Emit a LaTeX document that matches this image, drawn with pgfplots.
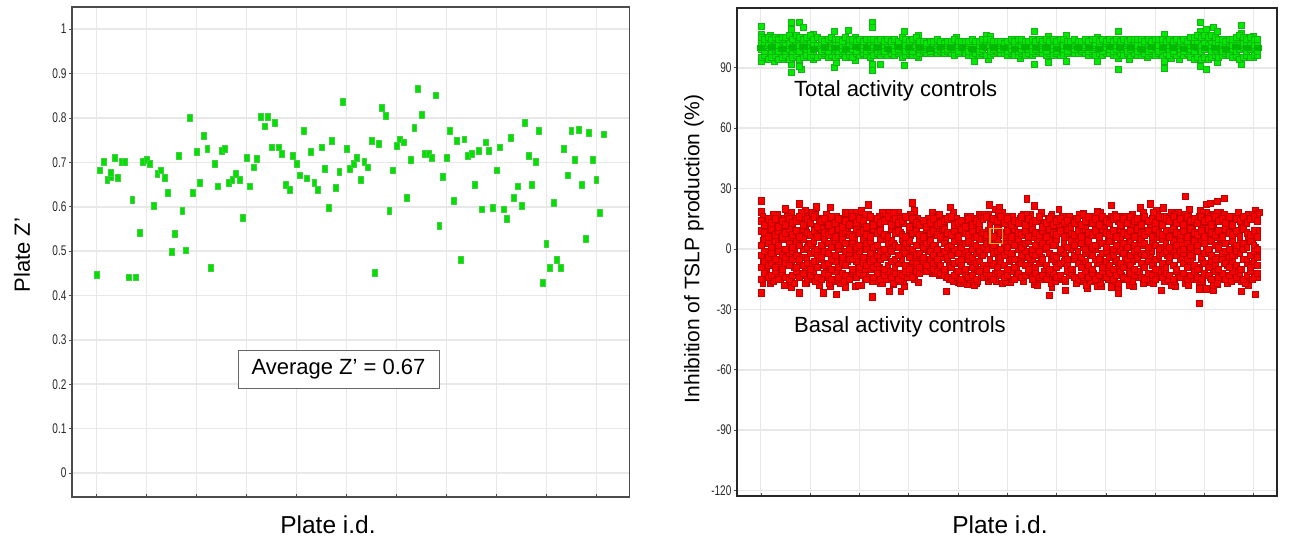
\documentclass[border=0pt]{standalone}
\usepackage{fontspec}
\setmainfont{Liberation Sans}
\usepackage{pgfplots}
\usepackage{pgfplotstable}
\pgfplotsset{compat=1.18}
\definecolor{gridc}{RGB}{232,232,232}
\definecolor{lgf}{RGB}{0,225,0}
\definecolor{lgd}{RGB}{70,205,70}
\definecolor{rgf}{RGB}{0,235,0}
\definecolor{rgd}{RGB}{20,180,20}
\definecolor{rgc}{RGB}{0,185,0}
\definecolor{rrf}{RGB}{250,0,0}
\definecolor{rrd}{RGB}{195,0,0}
\definecolor{oran}{RGB}{245,170,20}
\pgfplotstableread{
p v
0 .447
1 .682
2 .701
3 .661
4 .667
4 .677
5 .711
6 .665
7 .701
8 .701
9 .441
10 .616
11 .441
12 .542
13 .701
14 .705
15 .697
16 .602
17 .675
18 .682
19 .665
20 .631
21 .498
22 .539
23 .715
24 .590
25 .502
26 .800
27 .631
28 .723
29 .653
30 .759
31 .730
32 .462
33 .697
34 .646
35 .726
36 .730
37 .653
38 .661
39 .675
40 .661
41 .575
42 .711
43 .646
44 .689
45 .708
46 .803
47 .781
48 .803
49 .734
50 .789
51 .734
52 .719
53 .650
54 .638
55 .715
56 .697
57 .671
58 .771
59 .664
60 .723
61 .653
62 .638
63 .734
64 .686
65 .598
66 .749
67 .642
68 .678
69 .836
70 .730
71 .686
72 .697
73 .711
74 .660
75 .701
76 .689
77 .749
78 .451
79 .741
80 .822
81 .804
82 .590
83 .682
84 .738
85 .752
86 .745
87 .620
88 .705
89 .778
90 .866
91 .808
92 .719
93 .719
94 .711
95 .851
96 .557
97 .668
98 .711
99 .771
100 .613
101 .749
102 .480
103 .752
104 .715
105 .719
106 .650
107 .726
108 .594
109 .745
110 .726
111 .598
112 .682
113 .734
114 .594
115 .572
116 .756
117 .620
118 .646
119 .602
120 .789
121 .715
122 .650
123 .701
124 .771
125 .429
126 .517
127 .462
128 .609
129 .480
130 .462
131 .730
132 .671
133 .771
134 .705
135 .774
136 .650
137 .528
138 .767
139 .705
140 .661
141 .586
142 .763
}\zdata
\pgfplotstableread{
p a b c d e f
0 -15 -9 -3 2 9 14
1 -12 -6 -1 5 8 12
2 -14 -8 -4 3 6 15
3 -13 -7 -2 1 10 13
4 -11 -9 -5 4 7 15
5 -15 -6 -1 2 9 11
6 -12 -10 -3 5 6 14
7 -14 -7 -4 0 8 12
8 -15 -8 -2 3 10 15
9 -13 -5 -1 1 7 13
10 -11 -9 -3 4 9 14
11 -14 -6 -5 2 6 16
12 -12 -8 0 5 10 12
13 -15 -7 -4 1 8 15
14 -13 -10 -2 3 7 13
15 -11 -6 -1 4 9 16
16 -14 -9 -3 0 6 11
17 -15 -5 -4 2 10 14
18 -12 -8 -1 5 8 15
19 -13 -7 -2 3 7 12
20 -15 -10 -5 1 9 16
21 -11 -6 -3 4 6 13
22 -14 -9 0 2 10 15
23 -12 -7 -4 5 8 11
24 -13 -8 -1 3 9 14
25 -15 -5 -2 0 7 12
26 -11 -10 -5 4 6 16
27 -14 -6 -3 1 10 13
28 -12 -9 -1 2 8 15
29 -13 -7 -4 5 9 14
30 -15 -8 0 3 7 11
31 -10 -6 -2 4 6 16
32 -14 -9 -5 1 10 12
33 -12 -7 -3 2 8 15
34 -15 -5 -1 5 9 13
35 -13 -10 -4 0 7 14
36 -11 -8 -2 3 6 16
37 -14 -6 -1 4 10 12
38 -12 -9 -5 2 8 15
39 -15 -7 -3 1 9 13
40 -13 -5 0 5 7 14
41 -11 -8 -2 3 6 16
42 -12 -10 -4 4 10 11
43 -14 -6 -1 0 8 15
44 -11 -7 -3 2 9 13
45 -12 -9 -2 5 7 12
46 -10 -6 -4 1 6 14
47 -11 -8 0 3 10 11
48 -9 -5 -1 4 8 13
49 -10 -7 -3 2 9 15
50 -11 -6 -5 0 7 12
51 -12 -8 -2 5 6 13
52 -13 -10 -1 3 10 14
53 -14 -5 -4 1 8 15
54 -15 -9 -3 2 7 16
55 -13 -7 0 4 9 12
56 -11 -6 -2 5 6 13
57 -15 -8 -5 1 10 14
58 -12 -10 -1 3 8 11
59 -14 -5 -3 4 7 15
60 -13 -9 -4 0 9 12
61 -15 -7 -2 2 6 14
62 -11 -6 -1 5 10 13
63 -14 -8 -3 1 8 15
64 -12 -10 0 3 7 16
65 -13 -5 -5 4 9 12
66 -15 -7 -2 2 6 15
67 -11 -9 -1 5 10 14
68 -12 -6 -4 0 8 16
69 -14 -8 -3 3 7 13
70 -13 -10 -1 1 9 15
71 -11 -5 -2 4 6 12
72 -15 -9 -5 2 10 14
73 -12 -6 0 5 8 13
74 -14 -7 -3 1 7 16
75 -13 -8 -1 3 9 12
76 -11 -10 -4 4 6 15
77 -15 -5 -2 0 10 13
78 -12 -9 -3 2 8 14
79 -14 -7 -1 5 7 16
80 -13 -6 -5 3 9 11
81 -15 -8 0 1 6 13
82 -11 -10 -2 4 10 15
83 -12 -5 -3 2 8 12
84 -14 -9 -4 5 7 14
85 -13 -7 -1 0 9 15
86 -15 -6 -2 3 6 13
87 -11 -8 -5 1 10 14
88 -12 -10 0 4 8 11
89 -14 -5 -3 2 7 13
90 -15 -7 -1 5 9 15
91 -13 -9 -4 3 6 12
92 -11 -6 -2 0 10 14
93 -14 -8 -1 4 8 16
94 -12 -10 -3 1 7 13
95 -15 -5 0 2 9 15
96 -13 -7 -5 5 6 12
97 -11 -9 -2 3 10 16
98 -14 -6 -1 1 8 14
99 -12 -8 -4 4 7 13
100 -15 -10 -3 0 9 15
101 -13 -5 -1 2 6 16
102 -11 -7 0 5 10 12
103 -14 -9 -2 3 8 15
104 -15 -6 -5 1 7 13
105 -12 -8 -3 4 9 16
106 -13 -10 -1 2 6 14
107 -11 -5 -4 0 10 15
108 -14 -7 -2 5 8 12
109 -15 -9 -3 3 7 16
110 -12 -6 0 1 9 14
111 -13 -8 -1 4 6 15
112 -15 -10 -5 2 10 13
113 -11 -5 -3 0 8 16
114 -14 -7 -2 5 7 12
115 -12 -9 -1 3 9 15
116 -13 -6 -4 1 6 14
117 -15 -8 0 4 10 16
118 -11 -10 -3 2 8 13
119 -14 -5 -1 5 7 15
120 -12 -7 -2 0 9 12
121 -15 -9 -5 3 6 16
122 -13 -6 -3 1 10 14
123 -11 -8 0 4 8 15
124 -14 -10 -1 2 7 13
125 -15 -5 -4 5 9 16
126 -12 -7 -2 3 6 14
127 -13 -9 -1 0 10 15
128 -15 -6 -3 4 8 12
129 -11 -8 -5 2 7 16
130 -14 -10 0 1 9 14
131 -12 -5 -2 5 6 15
132 -15 -7 -1 3 10 13
133 -13 -9 -4 0 8 16
134 -11 -6 -3 4 7 12
135 -14 -8 -1 2 9 15
136 -12 -10 -2 5 6 14
137 -15 -5 0 3 10 16
138 -13 -7 -5 1 8 13
139 -11 -9 -3 4 7 15
140 -14 -6 -1 2 9 16
141 -12 -8 -4 0 6 14
}\basal
\pgfplotstableread{
p g h i j
0.5 16 -17 4 -6
2.5 13 -15 8 -2
4.5 17 -14 1 -10
6.5 15 -18 11 -5
8.5 18 -16 6 -8
10.5 14 -13 3 -3
12.5 16 -17 9 -11
14.5 18 -15 2 -7
16.5 13 -18 7 -1
18.5 17 -14 12 -9
20.5 15 -16 5 -4
22.5 14 -17 0 -12
24.5 18 -15 10 -6
26.5 16 -13 4 -2
28.5 13 -18 8 -10
30.5 17 -14 2 -5
32.5 15 -16 11 -8
34.5 18 -17 6 -3
36.5 14 -15 1 -11
38.5 16 -13 9 -7
40.5 13 -16 3 -1
42.5 17 -14 7 -9
44.5 15 -11 12 -4
46.5 14 -11 5 -8
48.5 16 -12 0 -3
50.5 13 -13 10 -6
52.5 15 -14 4 -11
54.5 18 -16 8 -2
56.5 14 -17 2 -7
58.5 13 -15 11 -5
60.5 15 -18 6 -10
62.5 16 -14 1 -3
64.5 17 -16 9 -8
66.5 14 -13 3 -12
68.5 18 -17 7 -1
70.5 15 -15 12 -6
72.5 13 -14 5 -9
74.5 17 -16 0 -4
76.5 16 -13 10 -7
78.5 14 -18 4 -2
80.5 13 -15 8 -11
82.5 16 -17 2 -5
84.5 15 -14 11 -8
86.5 13 -16 6 -3
88.5 14 -13 1 -10
90.5 17 -15 9 -7
92.5 15 -18 3 -1
94.5 16 -14 7 -12
96.5 18 -17 12 -4
98.5 14 -15 5 -9
100.5 17 -16 0 -6
102.5 13 -13 10 -2
104.5 16 -18 4 -11
106.5 15 -14 8 -5
108.5 18 -17 2 -8
110.5 14 -15 11 -3
112.5 17 -13 6 -10
114.5 16 -16 1 -7
116.5 18 -18 9 -1
118.5 15 -14 3 -12
120.5 17 -17 7 -6
122.5 14 -15 12 -4
124.5 16 -16 5 -9
126.5 18 -13 0 -2
128.5 17 -18 10 -11
130.5 18 -14 4 -5
132.5 15 -17 8 -8
134.5 16 -15 2 -3
136.5 14 -16 11 -10
138.5 17 -18 6 -7
140.5 16 -14 1 -1
1.5 14 -13 6 -11
3.5 17 -16 2 -3
5.5 13 -15 10 -7
7.5 16 -14 5 -1
9.5 15 -17 0 -9
11.5 18 -13 8 -4
13.5 14 -15 3 -12
15.5 17 -16 11 -6
17.5 15 -14 1 -2
19.5 13 -17 7 -10
21.5 16 -15 4 -5
23.5 14 -16 9 -8
25.5 18 -13 2 -3
27.5 15 -18 12 -7
29.5 17 -15 6 -11
31.5 13 -16 0 -1
33.5 16 -14 10 -9
35.5 14 -15 5 -4
37.5 18 -17 3 -6
39.5 15 -16 8 -12
41.5 16 -14 1 -2
43.5 14 -15 11 -8
45.5 13 -10 4 -5
47.5 15 -11 7 -1
49.5 13 -12 2 -9
51.5 14 -13 9 -4
53.5 16 -15 0 -7
55.5 15 -14 6 -11
57.5 14 -16 12 -3
59.5 16 -15 3 -6
61.5 13 -16 8 -10
63.5 17 -14 5 -2
65.5 15 -15 1 -8
67.5 18 -13 10 -5
69.5 14 -16 4 -12
71.5 16 -15 7 -3
73.5 15 -14 2 -7
75.5 17 -13 11 -1
77.5 14 -16 6 -9
79.5 18 -15 0 -4
81.5 15 -14 9 -11
83.5 13 -16 3 -6
85.5 16 -15 8 -2
87.5 14 -13 12 -10
89.5 15 -17 5 -5
91.5 17 -14 1 -8
93.5 13 -16 7 -3
95.5 18 -15 2 -7
97.5 15 -14 10 -12
99.5 16 -13 4 -1
101.5 14 -17 6 -9
103.5 16 -15 0 -4
105.5 17 -16 11 -6
107.5 15 -14 3 -11
109.5 14 -15 8 -2
111.5 18 -17 5 -7
113.5 16 -13 1 -10
115.5 15 -15 9 -3
117.5 17 -16 12 -8
119.5 14 -14 2 -5
121.5 16 -18 7 -1
123.5 15 -15 4 -12
125.5 18 -16 10 -6
127.5 16 -14 0 -9
129.5 18 -17 6 -4
131.5 17 -15 3 -7
133.5 16 -16 11 -2
135.5 18 -14 8 -11
137.5 15 -17 1 -5
139.5 17 -15 5 -8
141 17 -14 9 -3
}\basalb
\pgfplotstableread{
p y
0 24
0 18.6
7 20
11 22.5
12.5 19
15.6 21
19.6 20.7
24 18
27 18
28.6 19
30.6 22
36.4 18
39 18
43 23
43.6 19
48.7 18
50.7 17
53.7 20.7
58.6 16
62 17.4
64.8 22
66.5 19.7
67.7 20.7
69.6 16
0 -21.7
11 -21.7
17.7 -21.7
21.5 -22.5
24 -18.7
26.7 -18.4
31.7 -23.7
33.8 -17
36.5 -21
39.7 -21
40.7 -18.4
37.6 -17.6
52.6 -21
44.7 -16.4
55.9 -16.4
58.6 -17.6
61.3 -17
66.7 -16
70.3 -16.4
2.6 -17
8.6 -18.7
12.8 -17
19.6 -18.4
75.5 25
77.7 21.4
76.6 17.3
74.5 17.3
82.6 17.3
84.6 19.7
87.6 16.4
91.6 17.8
95.5 18.6
99.4 21.7
101.5 16
107.7 20.4
110.5 22.4
114.3 20.4
112.4 19
118.6 18.4
120.6 26.3
121.6 19.7
124.7 19
126.6 22.2
127.6 22.7
129.5 23.8
131.6 25.2
135.6 18.4
140.4 19
141.6 18.4
70.7 -16.3
77.8 -16.3
77.7 -17.6
81.8 -23
82.6 -18.7
83.5 -15
86.5 -20.4
91.6 -16
92.8 -19.2
95.5 -18.4
96.6 -18.4
99.4 -18.7
101.5 -18.7
101.5 -22
105.8 -18.4
110.5 -16.4
113.6 -20.4
116.4 -17.6
117.6 -18.4
121.4 -15
124.5 -19.7
124.5 -27
126.6 -19.7
128.5 -20.4
129.5 -17.6
133.6 -16
136.5 -21
138.5 -16
140.4 -22.5
140.4 -13.5
}\basaledge
\pgfplotstableread{
p a b c d
0 95 99 102 105
1 96 98 101 104
2 94 100 102 105
3 95 98 100 104
4 96 99 102 105
5 94 98 101 104
6 95 100 103 105
7 96 98 101 105
8 94 99 102 106
9 95 98 100 104
10 96 99 103 106
11 94 98 101 105
12 95 100 102 104
13 96 99 101 105
14 95 98 103 106
15 96 99 102 104
16 95 100 101 105
17 96 98 102 104
18 97 99 101 103
19 95 98 102 104
20 96 100 103 105
21 95 99 101 104
22 96 98 102 104
23 97 99 101 103
24 95 100 102 105
25 96 98 101 104
26 95 99 103 104
27 97 98 101 103
28 96 100 102 104
29 97 99 101 103
30 96 98 102 104
31 95 99 101 104
32 96 100 103 104
33 97 98 101 103
34 96 99 102 104
35 97 98 101 103
36 96 100 102 104
37 97 99 101 103
38 96 98 103 104
39 97 99 101 103
40 95 100 102 105
41 96 98 101 104
42 97 99 102 103
43 96 98 101 104
44 96 100 103 105
45 97 99 101 103
46 98 99 102 103
47 97 100 101 102
48 97 98 102 103
49 98 100 101 103
50 97 99 102 104
51 98 100 101 103
52 97 99 101 102
53 98 99 102 103
54 97 100 101 103
55 96 99 102 104
56 97 98 101 103
57 98 100 102 103
58 97 99 101 103
59 96 98 102 103
60 96 99 101 104
61 97 100 102 103
62 96 98 101 103
63 97 99 102 104
64 96 100 101 104
65 96 98 103 104
66 97 99 102 103
67 98 100 101 103
68 97 99 102 103
69 97 100 101 102
70 96 98 102 103
71 97 99 101 104
72 96 100 102 103
73 96 98 101 104
74 97 99 103 104
75 96 100 101 103
76 97 99 102 103
77 96 98 101 104
78 97 99 102 103
79 98 100 101 104
80 97 99 102 103
81 96 98 101 104
82 97 100 102 103
83 96 99 101 104
84 97 98 102 103
85 96 100 103 104
86 96 99 101 104
87 97 98 102 103
88 98 100 101 103
89 97 99 102 104
90 97 100 101 103
91 98 99 102 103
92 97 100 101 104
93 96 98 102 103
94 97 99 101 104
95 96 100 102 104
96 97 99 101 103
97 96 98 103 104
98 97 100 102 103
99 97 99 101 104
100 96 98 102 103
101 96 99 101 104
102 97 100 102 103
103 96 99 101 104
104 97 98 102 103
105 96 99 101 104
106 97 100 103 104
107 96 98 101 104
108 96 99 102 104
109 97 100 101 103
110 96 98 102 104
111 97 99 101 103
112 96 100 102 104
113 97 98 101 104
114 96 99 103 104
115 97 100 102 103
116 96 99 101 104
117 97 98 102 103
118 96 100 101 104
119 97 99 102 103
120 96 98 101 104
121 97 100 102 103
122 95 99 101 105
123 94 98 102 105
124 95 100 103 106
125 94 98 101 105
126 95 99 102 106
127 94 100 101 105
128 95 98 103 106
129 96 99 102 105
130 95 100 101 104
131 96 98 102 104
132 97 99 101 103
133 96 100 102 104
134 95 99 101 104
135 96 98 103 105
136 94 99 101 106
137 95 100 102 105
138 96 98 101 104
139 95 99 102 105
140 96 100 101 104
141 96 98 102 104
}\total
\pgfplotstableread{
p y
0 110.7
0 106.6
8.5 112.8
10.8 112.4
12 110.2
8.7 109
14.9 106.6
20.7 107.9
24.7 108.5
31.7 112.4
31.7 110
40.7 107.9
44.7 106.2
55.6 105.2
64 106.2
65 105.7
2.6 106
26.7 105.2
0 93
8.5 88
8.5 91.7
11.4 89.2
10.8 90.8
3.7 93
6 94
14.9 94
20.7 90.3
21.5 92.5
31.7 88.7
31.7 91.7
33.8 92
40.7 91.3
44.7 95.3
60.6 93
64.6 94
26.7 93.6
77.7 107.9
81.7 105.7
86.6 106.2
95.5 105.2
101.5 108.2
114.5 106.6
124.7 112.4
124.7 108.2
126.6 109
128.5 109.9
129.5 107.9
136.5 111.2
136.5 107.4
139.8 105.7
77.7 91.7
81.7 92.5
73.6 94.6
86.6 93
95.5 93
101.5 89.2
101.5 94.6
104.5 94
109.6 95
114.5 90
114.5 93
116.5 94.6
118.7 94
124.7 90.8
126.6 89.2
129.5 92.5
136.5 92
139.8 95
}\totaledge
\pgfplotstableread{
p y
0 100
3 100.5
6 99.5
9 100
12 100.5
15 99.5
18 100
21 100
24 99.5
27 100.5
30 100
33 100
36 99.5
39 100.5
42 100
45 100
48 99.5
51 100.5
54 100
57 100
60 99.5
63 100.5
66 100
69 100
72 99.5
75 100.5
78 100
81 100
84 99.5
87 100.5
90 100
93 100
96 99.5
99 100.5
102 100
105 100
108 99.5
111 100.5
114 100
117 100
120 99.5
123 100.5
126 100
129 100
132 99.5
135 100.5
138 100
141 100
}\totalcore
\pgfplotsset{
  common/.style={
    scale only axis, axis line style={draw=black!70, line width=1.2pt},
    xtick pos=bottom, ytick pos=left, xtick align=inside, ytick align=outside,
    major tick length=3pt, tick style={draw=black!70, line width=.7pt},
    xticklabels={}, grid=major,
    x grid style={draw=gridc, line width=.9pt},
    y grid style={draw=gridc, line width=1.6pt},
    tick label style={font=\fontsize{14}{14}\selectfont, text=black!85},
    y tick label style={xscale=.72},
    /pgf/number format/assume math mode=true,
    yticklabel style={/pgf/number format/fixed},
  },
  rmark/.style={only marks, mark=square*, mark size=3.2pt,
    mark options={xscale=.92, draw=rrd, fill=rrf, line width=.45pt}},
  gmark/.style={only marks, mark=square*, mark size=3pt,
    mark options={draw=rgd, fill=rgf, line width=.5pt}},
}
\begin{document}
\begin{tikzpicture}[x=1pt,y=1pt]
\useasboundingbox (0,0) rectangle (1291,540);
\begin{axis}[common, at={(72pt,43pt)}, anchor=south west, width=557.5pt, height=490pt,
  xmin=-6.9, xmax=149.3, ymin=-0.054, ymax=1.05,
  xtick distance=14, ytick={0,0.1,...,1}]
\addplot[only marks, mark=square*, mark size=3.4pt,
  mark options={xscale=.72, draw=lgd, fill=lgf, line width=.6pt}] table[x=p,y=v]{\zdata};
\end{axis}
\begin{axis}[common, at={(737pt,44pt)}, anchor=south west, width=540pt, height=488pt,
  axis line style={draw=black!85, line width=1.2pt},
  xmin=-6.8, xmax=146.6, ymin=-122.7, ymax=119.7,
  xtick distance=14, ytick={-120,-90,...,90}]
\addplot[gmark] table[x=p,y=y]{\totaledge};
\pgfplotsinvokeforeach{a,b,c,d}{
\addplot[gmark] table[x=p,y=#1]{\total};
}
\addplot[only marks, mark=square*, mark size=3pt,
  mark options={xscale=1.2, yscale=.9, draw=rgc, fill=rgc, line width=.3pt}] table[x=p,y=y]{\totalcore};
\addplot[rmark] table[x=p,y=y]{\basaledge};
\pgfplotsinvokeforeach{g,h,i,j}{
\addplot[rmark] table[x=p,y=#1]{\basalb};
}
\pgfplotsinvokeforeach{a,b,c,d,e,f}{
\addplot[rmark] table[x=p,y=#1]{\basal};
}
\addplot[only marks, mark=square, mark size=7.8pt,
  mark options={xscale=.78, draw=oran, line width=1.2pt}] coordinates {(66.8,6.4)};
\end{axis}
\node[draw=black!60, line width=.7pt, fill=white, minimum width=201pt, minimum height=38pt, inner sep=0pt,
  font=\fontsize{22}{22}\selectfont] at (338.5,171) {Average Z’ = 0.67};
\node[font=\fontsize{24.5}{24.5}\selectfont] at (328,15) {Plate i.d.};
\node[font=\fontsize{24.5}{24.5}\selectfont] at (1000,15) {Plate i.d.};
\node[font=\fontsize{22}{22}\selectfont, rotate=90] at (22,285) {Plate Z’};
\node[font=\fontsize{21}{21}\selectfont, rotate=90] at (694,291) {Inhibition of TSLP production (\%)};
\node[font=\fontsize{22}{22}\selectfont, anchor=base west, inner sep=0pt] at (794,443) {Total activity controls};
\node[font=\fontsize{22}{22}\selectfont, anchor=base west, inner sep=0pt] at (794,207) {Basal activity controls};
\end{tikzpicture}
\end{document}
